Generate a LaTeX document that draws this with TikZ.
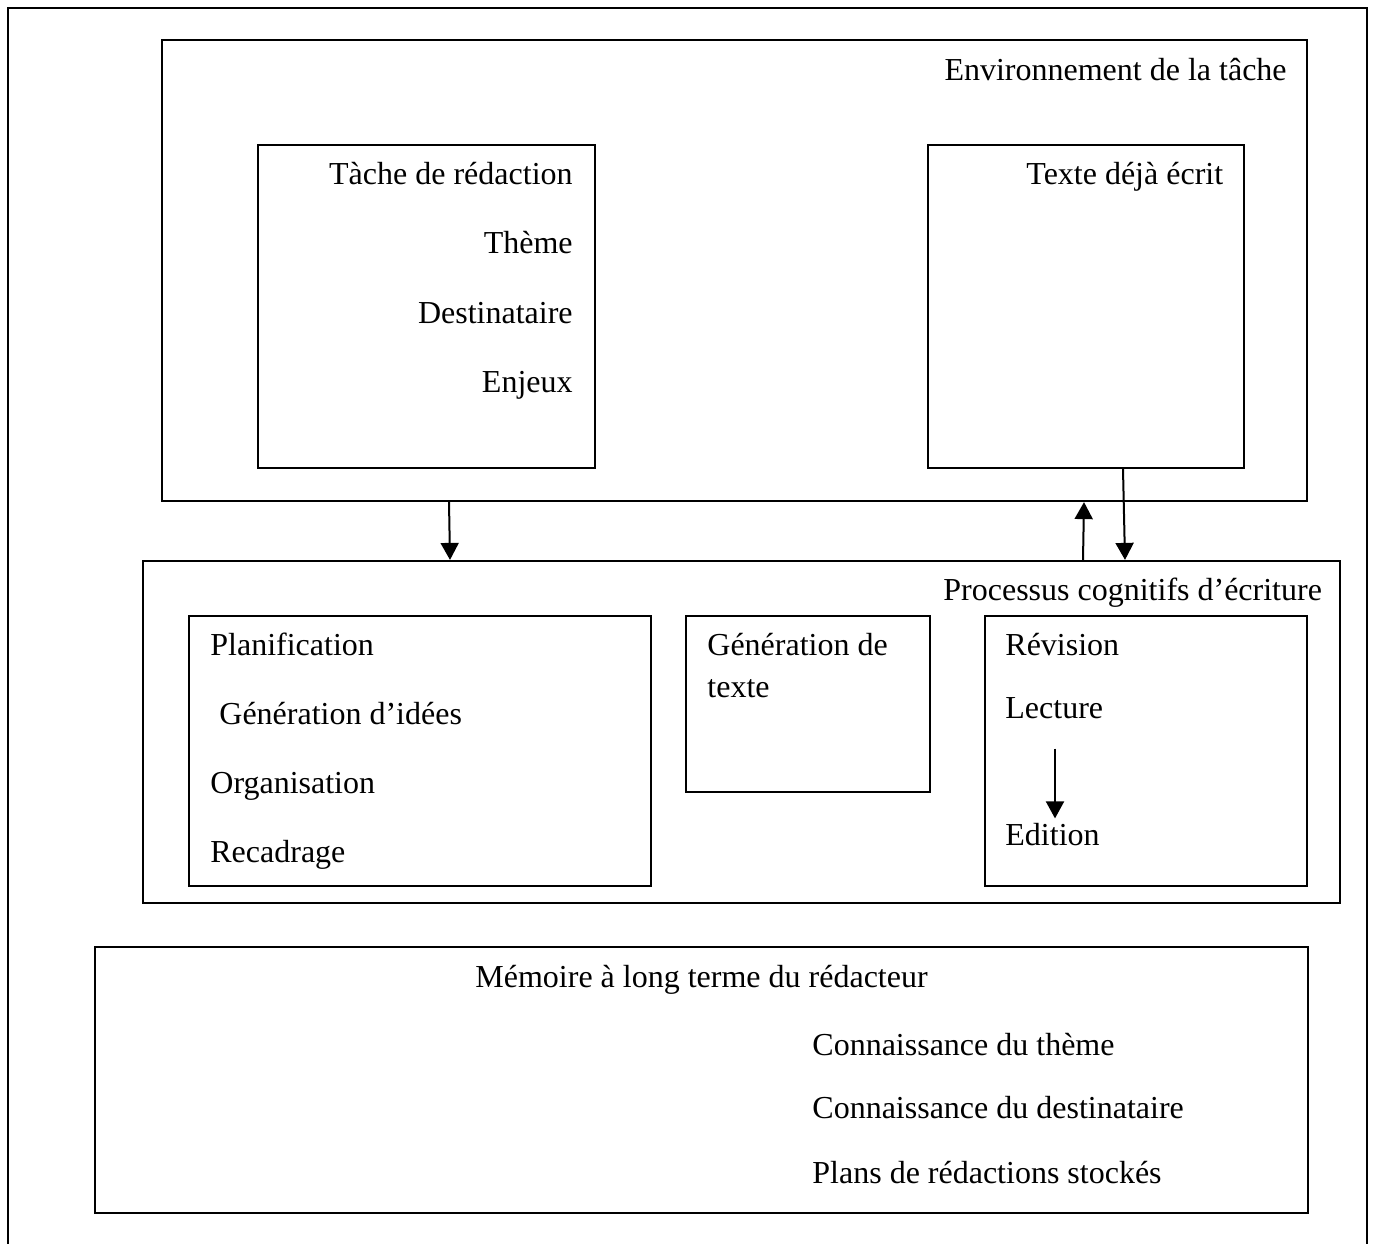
\documentclass[tikz,border=0pt]{standalone}
\usepackage{fontspec}
\setmainfont{Liberation Serif}
\usepackage{tikz}
\usetikzlibrary{arrows.meta}
\usetikzlibrary{fit}

\tikzset{
  box/.style={draw, line width=1.1pt, inner sep=0pt},
  lbl/.style={inner sep=0pt},
  arr/.style={line width=1pt, -{Triangle[length=8.5pt, width=9pt]}}
}

\begin{document}
\begin{tikzpicture}[x=0.5pt, y=-0.5pt, font=\fontsize{16}{19}\selectfont]
    \useasboundingbox (0,0) rectangle (1376,1243);
    % outer frame, open at the bottom
    \draw[line width=1.1pt] (8,1260) -- (8,8) -- (1367,8) -- (1367,1260);
    % task environment
    \node[box, fit={(162,40) (1307,501)}] (env) {};
    \node[lbl, anchor=base east] (envlbl) at (1287,80) {Environnement de la tâche};
    \node[box, fit={(258,145) (595,468)}] (tache) {};
    \node[lbl, anchor=base east] (tachelbl) at (573,184) {Tàche de rédaction};
    \node[lbl, anchor=base east] (theme) at (573,253) {Thème};
    \node[lbl, anchor=base east] (dest) at (573,323) {Destinataire};
    \node[lbl, anchor=base east] (enjeux) at (573,392) {Enjeux};
    \node[box, fit={(928,145) (1244,468)}] (texte) {};
    \node[lbl, anchor=base west] (textelbl) at (1026,184) {Texte déjà écrit};
    % writing processes
    \node[box, fit={(143,561) (1340,903)}] (proc) {};
    \node[lbl, anchor=base west] (proclbl) at (943,600) {Processus cognitifs d’écriture};
    \node[box, fit={(189,616) (651,886)}] (plan) {};
    \node[lbl, anchor=base west] (planlbl) at (210,655) {Planification};
    \node[lbl, anchor=base west] (idees) at (219,724) {Génération d’idées};
    \node[lbl, anchor=base west] (orga) at (210,793) {Organisation};
    \node[lbl, anchor=base west] (recad) at (210,862) {Recadrage};
    \node[box, fit={(686,616) (930,792)}] (gen) {};
    \node[lbl, anchor=base west] (genlbl) at (707,655) {Génération de};
    \node[lbl, anchor=base west] (genlblb) at (707,697) {texte};
    \node[box, fit={(985,616) (1307,886)}] (rev) {};
    \node[lbl, anchor=base west] (revlbl) at (1005,655) {Révision};
    \node[lbl, anchor=base west] (lect) at (1005,718) {Lecture};
    \node[lbl, anchor=base west] (edit) at (1005,845) {Edition};
    % long term memory
    \node[box, fit={(95,947) (1308,1213)}] (mem) {};
    \node[lbl, anchor=base west] (memlbl) at (475,987) {Mémoire à long terme du rédacteur};
    \node[lbl, anchor=base west] (cthem) at (812,1055) {Connaissance du thème};
    \node[lbl, anchor=base west] (cdest) at (812,1118) {Connaissance du destinataire};
    \node[lbl, anchor=base west] (plans) at (812,1183) {Plans de rédactions stockés};
    % arrows
    \draw[arr] (env.south -| 449,0) -- (proc.north -| 450,0);
    \draw[arr] (proc.north -| 1083,0) -- (env.south -| 1084,0);
    \draw[arr] (texte.south -| 1123,0) -- (proc.north -| 1125,0);
    \draw[arr, shorten <=15pt, shorten >=2pt] (lect.south -| 1055,0) -- (edit.north -| 1055,0);
\end{tikzpicture}
\end{document}
